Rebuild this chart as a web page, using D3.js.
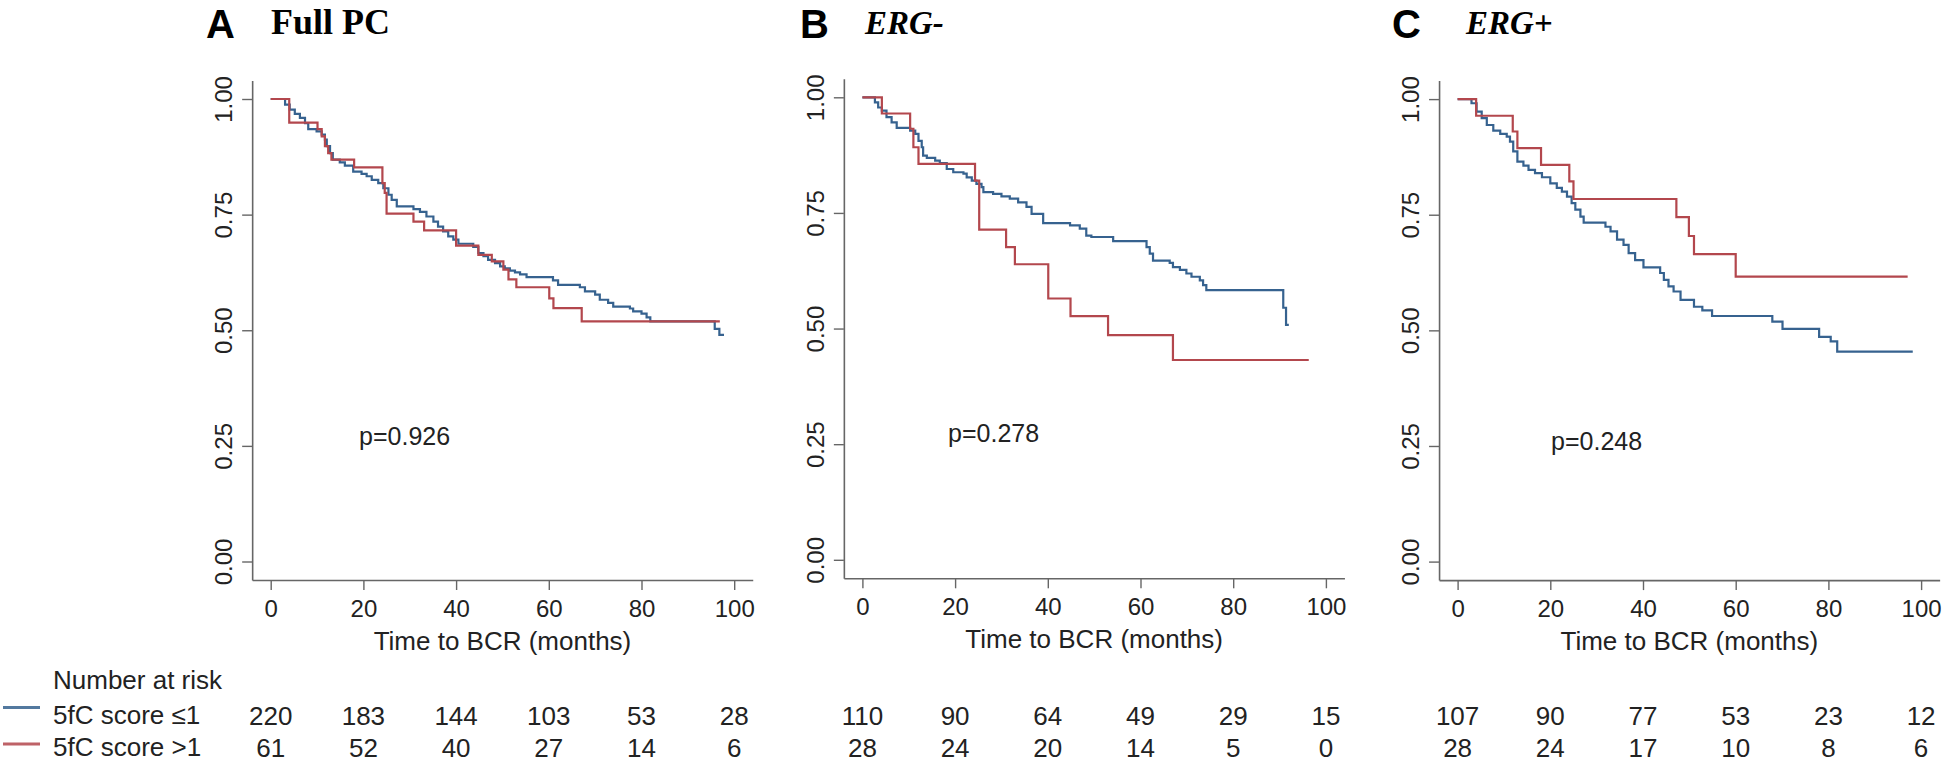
<!DOCTYPE html>
<html>
<head>
<meta charset="utf-8">
<script src="https://cdn.jsdelivr.net/npm/d3@7"></script>
<style>
  html, body { margin: 0; padding: 0; background: #fff; }
  svg { display: block; }
</style>
</head>
<body>
<script>
// ---------------- DATA ----------------
const months = [0, 20, 40, 60, 80, 100];
const yTicks = [0, 0.25, 0.5, 0.75, 1];
const panelLetters = ["A", "B", "C"];
const panelTitles = ["Full PC", "ERG-", "ERG+"];
const pValues = ["p=0.926", "p=0.278", "p=0.248"];
const seriesNames = ["5fC score \u22641", "5fC score >1"];
const riskLow = [[220, 183, 144, 103, 53, 28], [110, 90, 64, 49, 29, 15], [107, 90, 77, 53, 23, 12]];
const riskHigh = [[61, 52, 40, 27, 14, 6], [28, 24, 20, 14, 5, 0], [28, 24, 17, 10, 8, 6]];

// Panel A: Full PC
const fullLowT = [0, 3.1, 4.1, 5.2, 6.3, 7.4, 8.1, 9.9, 11.0, 11.7, 12.1, 12.8, 13.4, 14.9, 16.0, 17.8, 19.6, 20.7, 21.8, 23.2, 24.3, 25.4, 26.1, 27.2, 30.8, 32.2, 33.6, 35.1, 36.1, 37.2, 38.3, 39.4, 40.5, 43.7, 44.8, 45.9, 46.9, 48.4, 49.5, 50.5, 51.6, 52.7, 53.8, 55.2, 60.9, 62.0, 66.7, 67.8, 70.0, 71.0, 72.8, 73.9, 77.5, 78.2, 80.0, 81.1, 81.9, 95.8, 96.8, 97.8];
const fullLowS = [1, 0.988, 0.977, 0.968, 0.959, 0.948, 0.935, 0.930, 0.923, 0.912, 0.898, 0.883, 0.869, 0.863, 0.856, 0.843, 0.838, 0.833, 0.825, 0.818, 0.807, 0.793, 0.782, 0.768, 0.762, 0.756, 0.746, 0.735, 0.724, 0.714, 0.703, 0.696, 0.687, 0.680, 0.667, 0.660, 0.652, 0.645, 0.638, 0.634, 0.629, 0.625, 0.621, 0.615, 0.608, 0.598, 0.593, 0.584, 0.577, 0.566, 0.559, 0.551, 0.547, 0.541, 0.536, 0.528, 0.519, 0.503, 0.490, 0.490];
const fullHighT = [0, 4.0, 10.1, 11.0, 11.7, 12.4, 13.1, 18.0, 24.1, 24.6, 25.0, 30.8, 33.1, 40.0, 44.8, 47.7, 50.2, 51.3, 53.0, 60.1, 61.0, 67.1, 96.9];
const fullHighS = [1, 0.949, 0.935, 0.919, 0.898, 0.883, 0.869, 0.852, 0.818, 0.797, 0.752, 0.735, 0.716, 0.683, 0.663, 0.649, 0.631, 0.610, 0.593, 0.569, 0.548, 0.519, 0.519];

// Panel B: ERG-
const ergNegLowT = [0, 2.7, 3.4, 4.2, 5.2, 6.3, 7.4, 10.3, 11.4, 12.1, 12.8, 13.1, 13.9, 15.7, 16.7, 18.2, 19.6, 21.8, 22.5, 23.6, 24.6, 25.7, 26.1, 28.2, 30.0, 31.8, 33.6, 35.4, 36.5, 39.0, 44.8, 46.9, 48.3, 49.4, 54.1, 61.3, 62.0, 62.7, 66.3, 67.0, 68.5, 69.9, 71.0, 72.8, 73.5, 74.2, 90.8, 91.4, 92.0];
const ergNegLowS = [1, 0.989, 0.978, 0.971, 0.957, 0.946, 0.934, 0.928, 0.921, 0.906, 0.892, 0.874, 0.869, 0.863, 0.858, 0.845, 0.838, 0.835, 0.827, 0.820, 0.813, 0.806, 0.795, 0.791, 0.786, 0.781, 0.773, 0.763, 0.748, 0.728, 0.723, 0.716, 0.701, 0.698, 0.689, 0.676, 0.662, 0.647, 0.642, 0.633, 0.627, 0.619, 0.612, 0.604, 0.594, 0.583, 0.545, 0.508, 0.508];
const ergNegHighT = [0, 4.2, 10.3, 11.0, 12.1, 24.3, 25.2, 31.0, 32.9, 40.1, 44.9, 53.0, 67.0, 96.3];
const ergNegHighS = [1, 0.965, 0.932, 0.892, 0.856, 0.820, 0.714, 0.676, 0.639, 0.565, 0.527, 0.486, 0.432, 0.432];

// Panel C: ERG+
const ergPosLowT = [0, 3.0, 4.1, 5.2, 6.3, 7.7, 9.2, 10.6, 11.3, 12.0, 12.9, 14.2, 15.3, 16.7, 18.2, 20.0, 21.4, 22.5, 23.6, 24.6, 25.4, 26.5, 27.2, 31.9, 33.0, 34.4, 35.8, 36.9, 38.3, 40.1, 43.7, 44.5, 45.5, 46.6, 48.1, 51.0, 52.8, 54.9, 67.9, 70.1, 78.0, 80.5, 81.9, 98.2];
const ergPosLowS = [1, 0.991, 0.973, 0.959, 0.944, 0.932, 0.925, 0.919, 0.908, 0.887, 0.865, 0.856, 0.847, 0.840, 0.831, 0.818, 0.808, 0.800, 0.789, 0.775, 0.761, 0.746, 0.733, 0.724, 0.714, 0.696, 0.685, 0.667, 0.652, 0.636, 0.624, 0.609, 0.595, 0.584, 0.566, 0.551, 0.543, 0.531, 0.519, 0.503, 0.486, 0.476, 0.454, 0.454];
const ergPosHighT = [0, 4.0, 11.9, 12.9, 18.0, 24.1, 25.0, 47.2, 49.9, 51.0, 60.0, 97.1];
const ergPosHighS = [1, 0.964, 0.930, 0.894, 0.858, 0.822, 0.784, 0.745, 0.704, 0.665, 0.616, 0.616];

// p-value annotation anchor (data coordinates)
const pAtMonth = [28.9, 28.3, 30.0];
const pAtSurv = [0.252, 0.255, 0.241];

// ---------------- LAYOUT / STYLE ----------------
const W = 1946, H = 762;
const panelX0 = [270.7, 862.4, 1457.6];   // pixel of month 0
const panelY0 = [561.5, 559.8, 561.6];    // pixel of survival 0
const pxMonth = 4.635, pxUnit = 462.5;
const blue = "#36628f", red = "#b3474d";
const axisCol = "#666";
const txtCol = "#222";
const sans = "'Liberation Sans', Arial, Helvetica, sans-serif";
const serif = "'Liberation Serif', 'DejaVu Serif', serif";

const curves = [
  [[fullLowT, fullLowS], [fullHighT, fullHighS]],
  [[ergNegLowT, ergNegLowS], [ergNegHighT, ergNegHighS]],
  [[ergPosLowT, ergPosLowS], [ergPosHighT, ergPosHighS]]
];
const zip = (t, s) => d3.range(Math.min(t.length, s.length)).map(i => [t[i], s[i]]);

const svg = d3.select("body").append("svg")
  .attr("width", W).attr("height", H)
  .style("background", "#fff");

const titleLetterX = [206, 800, 1392];
const titleNameX = [271, 865, 1466];

panelLetters.forEach((L, i) => {
  const x = d3.scaleLinear().domain([-4, 104])
    .range([panelX0[i] - 4 * pxMonth, panelX0[i] + 104 * pxMonth]);
  const y = d3.scaleLinear().domain([-0.04, 1.04])
    .range([panelY0[i] + 0.04 * pxUnit, panelY0[i] - 1.04 * pxUnit]);

  const g = svg.append("g");

  // titles
  svg.append("text").attr("x", titleLetterX[i]).attr("y", 38)
    .attr("font-family", sans).attr("font-weight", 700)
    .attr("font-size", 40).attr("fill", "#000").text(L);
  svg.append("text").attr("x", titleNameX[i]).attr("y", 34)
    .attr("font-family", serif).attr("font-weight", 700)
    .attr("font-style", i === 0 ? "normal" : "italic")
    .attr("font-size", i === 0 ? 36 : 33).attr("fill", "#000").text(panelTitles[i]);

  // y axis
  const ya = g.append("g").attr("transform", `translate(${x(-4)},0)`)
    .call(d3.axisLeft(y).tickValues(yTicks).tickFormat(d3.format(".2f")).tickSize(10).tickSizeOuter(0));
  // x axis
  const xa = g.append("g").attr("transform", `translate(0,${y(-0.04)})`)
    .call(d3.axisBottom(x).tickValues(months).tickSize(10).tickSizeOuter(0));

  [ya, xa].forEach(a => {
    a.attr("font-family", sans).attr("font-size", 24);
    a.select(".domain").attr("stroke", axisCol).attr("stroke-width", 1.6);
    a.selectAll(".tick line").attr("stroke", axisCol).attr("stroke-width", 1.4);
    a.selectAll(".tick text").attr("fill", txtCol);
  });
  ya.selectAll(".tick text")
    .attr("transform", "rotate(-90)")
    .attr("x", 0).attr("y", -20).attr("dy", 0)
    .attr("text-anchor", "middle");
  xa.selectAll(".tick text").attr("y", 37).attr("dy", 0);

  // axis title
  g.append("text").attr("x", x(50)).attr("y", y(-0.04) + 69.5)
    .attr("text-anchor", "middle").attr("font-family", sans).attr("font-size", 26)
    .attr("fill", txtCol).text("Time to BCR (months)");

  // KM curves
  const line = d3.line().x(d => x(d[0])).y(d => y(d[1])).curve(d3.curveStepAfter);
  [blue, red].forEach((col, k) => {
    const [t, s] = curves[i][k];
    g.append("path").datum(zip(t, s))
      .attr("d", line).attr("fill", "none")
      .attr("stroke", col).attr("stroke-width", 2.2)
      .attr("stroke-linejoin", "miter");
  });

  // p-value
  g.append("text").attr("x", x(pAtMonth[i])).attr("y", y(pAtSurv[i]))
    .attr("text-anchor", "middle").attr("font-family", sans).attr("font-size", 25)
    .attr("fill", txtCol).text(pValues[i]);

  // numbers at risk
  [riskLow[i], riskHigh[i]].forEach((row, k) => {
    svg.append("g").selectAll("text").data(row).join("text")
      .attr("x", (d, j) => x(months[j]))
      .attr("y", k === 0 ? 725 : 756.5)
      .attr("text-anchor", "middle").attr("font-family", sans).attr("font-size", 26)
      .attr("fill", txtCol).text(d => d);
  });
});

// number-at-risk legend
svg.append("text").attr("x", 53).attr("y", 689).attr("font-family", sans)
  .attr("font-size", 26).attr("fill", txtCol).text("Number at risk");
[blue, red].forEach((col, k) => {
  svg.append("line").attr("x1", 3).attr("x2", 40)
    .attr("y1", k === 0 ? 707.5 : 744).attr("y2", k === 0 ? 707.5 : 744)
    .attr("stroke", col).attr("stroke-width", 3).attr("opacity", 0.85);
  svg.append("text").attr("x", 53).attr("y", k === 0 ? 724 : 755.7)
    .attr("font-family", sans).attr("font-size", 26).attr("fill", txtCol)
    .text(seriesNames[k]);
});
</script>
</body>
</html>
